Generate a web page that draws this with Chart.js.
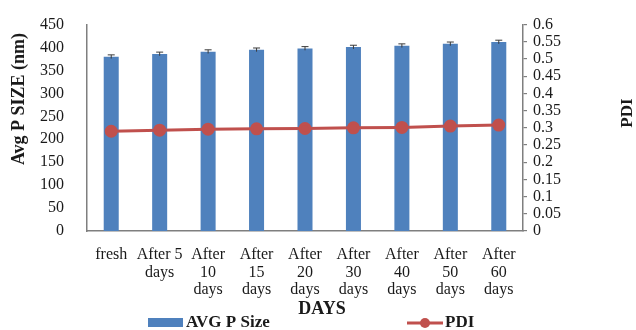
<!DOCTYPE html>
<html>
<head>
<meta charset="utf-8">
<script src="https://cdn.jsdelivr.net/npm/chart.js@4.4.1/dist/chart.umd.min.js"></script>
<style>
html,body{margin:0;padding:0;background:#fff;}
#wrap{width:636px;height:330px;}
</style>
</head>
<body>
<div id="wrap"><canvas id="c" width="636" height="330"></canvas></div>
<script>
const categories = [
  ['fresh'],
  ['After 5', 'days'],
  ['After', '10', 'days'],
  ['After', '15', 'days'],
  ['After', '20', 'days'],
  ['After', '30', 'days'],
  ['After', '40', 'days'],
  ['After', '50', 'days'],
  ['After', '60', 'days']
];
const avgSize = [380, 386, 391, 395, 398, 401, 404, 408, 412];
const avgSizeErr = [4, 4, 4, 4, 4, 4, 4, 4, 4];
const pdi = [0.29, 0.293, 0.296, 0.297, 0.298, 0.300, 0.301, 0.305, 0.308];
const leftTitle = 'Avg P SIZE (nm)';
const rightTitle = 'PDI';
const xTitle = 'DAYS';
const legendBar = 'AVG P Size';
const legendLine = 'PDI';

const BLUE = '#4F81BD';
const RED = '#C0504D';
const AXIS = '#7f7f7f';
const SERIF = '"Liberation Serif", "Times New Roman", serif';

const errorBars = {
  id: 'errorBars',
  afterDatasetDraw(chart, args) {
    if (args.index !== 0) return;
    const meta = args.meta;
    const y = chart.scales.y;
    const ctx = chart.ctx;
    ctx.save();
    ctx.strokeStyle = '#3a3a3a';
    ctx.lineWidth = 1;
    meta.data.forEach((el, i) => {
      const v = avgSize[i], e = avgSizeErr[i];
      const yt = y.getPixelForValue(v + e), yb = y.getPixelForValue(v - e);
      ctx.beginPath();
      ctx.moveTo(el.x, yt); ctx.lineTo(el.x, yb);
      ctx.moveTo(el.x - 3.5, yt); ctx.lineTo(el.x + 3.5, yt);
      ctx.stroke();
    });
    ctx.restore();
  }
};

const textPlugin = {
  id: 'texts',
  afterDraw(chart) {
    const ctx = chart.ctx;
    ctx.save();
    ctx.fillStyle = '#1a1a1a';
    ctx.textAlign = 'center';
    ctx.textBaseline = 'middle';
    // left title
    ctx.save();
    ctx.translate(19, 99);
    ctx.rotate(-Math.PI / 2);
    ctx.font = 'bold 18px ' + SERIF;
    ctx.fillText(leftTitle, 0, 0);
    ctx.restore();
    // right title
    ctx.save();
    ctx.translate(628, 113);
    ctx.rotate(-Math.PI / 2);
    ctx.font = 'bold 17px ' + SERIF;
    ctx.fillText(rightTitle, 0, 0);
    ctx.restore();
    // x title
    ctx.font = 'bold 18px ' + SERIF;
    ctx.fillText(xTitle, 322, 309);
    // legend
    ctx.textAlign = 'left';
    ctx.font = 'bold 17px ' + SERIF;
    ctx.fillStyle = BLUE;
    ctx.fillRect(148, 318, 35, 9);
    ctx.fillStyle = '#1a1a1a';
    ctx.fillText(legendBar, 186, 323);
    ctx.strokeStyle = RED;
    ctx.lineWidth = 3;
    ctx.beginPath();
    ctx.moveTo(407, 323); ctx.lineTo(443, 323);
    ctx.stroke();
    ctx.fillStyle = RED;
    ctx.beginPath();
    ctx.arc(425, 323, 5, 0, Math.PI * 2);
    ctx.fill();
    ctx.fillStyle = '#1a1a1a';
    ctx.fillText(legendLine, 445, 323);
    ctx.restore();
  }
};

new Chart(document.getElementById('c'), {
  data: {
    labels: categories,
    datasets: [
      {
        type: 'bar',
        label: legendBar,
        data: avgSize,
        backgroundColor: BLUE,
        yAxisID: 'y',
        order: 2,
        categoryPercentage: 1,
        barPercentage: 0.31
      },
      {
        type: 'line',
        label: legendLine,
        data: pdi,
        borderColor: RED,
        backgroundColor: RED,
        borderWidth: 3,
        pointRadius: 5,
        pointBackgroundColor: RED,
        pointBorderColor: RED,
        yAxisID: 'y1',
        order: 1
      }
    ]
  },
  options: {
    responsive: false,
    animation: false,
    layout: { padding: { top: 17, left: 0, right: 0, bottom: 0 } },
    plugins: { legend: { display: false }, tooltip: { enabled: false } },
    scales: {
      x: {
        offset: true,
        grid: { display: false },
        border: { display: true, color: AXIS, width: 1.5 },
        ticks: {
          color: '#1a1a1a',
          font: { family: SERIF, size: 16, lineHeight: 1.1 },
          padding: 7,
          maxRotation: 0,
          autoSkip: false
        },
        afterFit(s) { s.height = 99; }
      },
      y: {
        position: 'left',
        min: 0, max: 450,
        grid: { display: false },
        border: { display: true, color: AXIS, width: 1.5 },
        ticks: {
          stepSize: 50,
          autoSkip: false,
          color: '#1a1a1a',
          font: { family: SERIF, size: 16 },
          padding: 15
        },
        afterFit(s) { s.width = 87; }
      },
      y1: {
        position: 'right',
        min: 0, max: 0.6,
        grid: { display: true, drawOnChartArea: false, color: AXIS, tickLength: 4, lineWidth: 1.2 },
        border: { display: true, color: AXIS, width: 1.5 },
        ticks: {
          stepSize: 0.05,
          autoSkip: false,
          color: '#1a1a1a',
          font: { family: SERIF, size: 16 },
          padding: 6,
          callback: v => String(+v.toFixed(2))
        },
        afterFit(s) { s.width = 113; }
      }
    }
  },
  plugins: [errorBars, textPlugin]
});
</script>
</body>
</html>
